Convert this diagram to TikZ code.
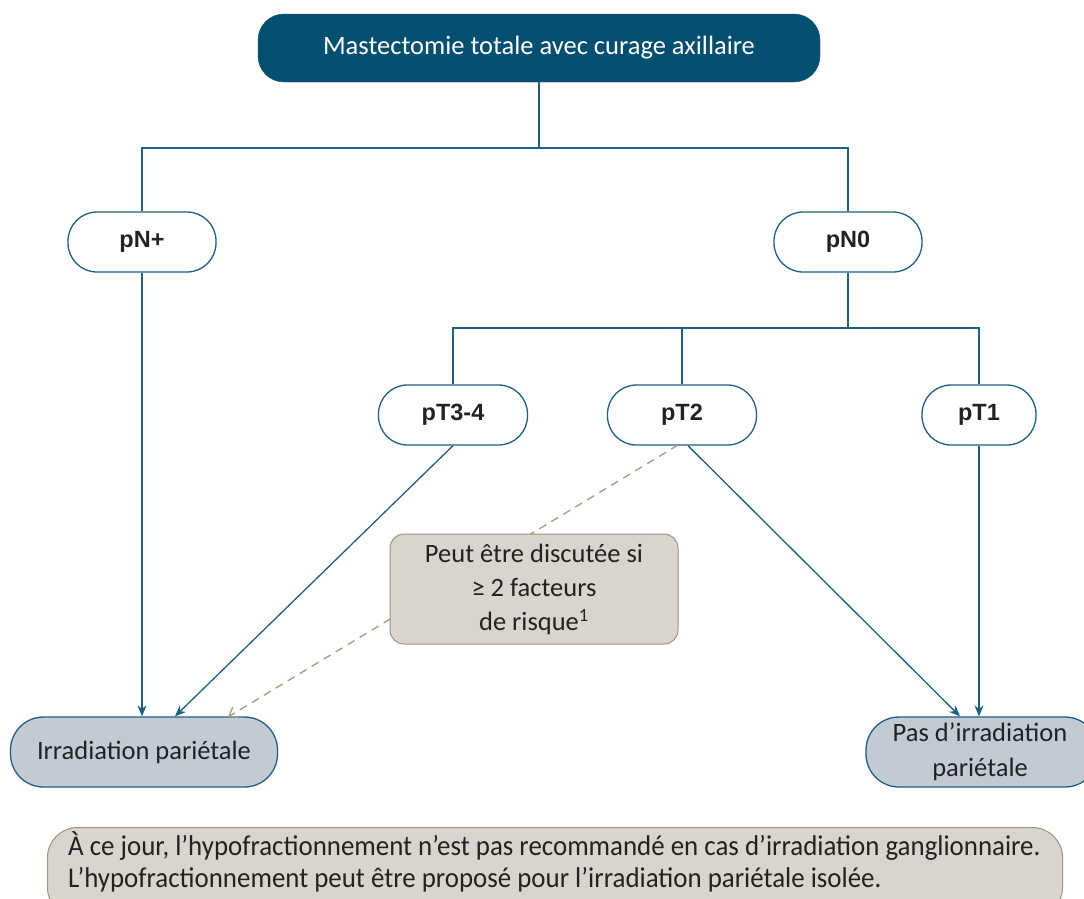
\documentclass[tikz,border=0pt]{standalone}
\usepackage{fontspec}
\setmainfont{Carlito}
\newfontfamily\labelfont{Liberation Sans}
\usetikzlibrary{arrows.meta,calc}
\definecolor{navy}{HTML}{034F70}
\definecolor{linec}{HTML}{1E5F86}
\definecolor{resfill}{HTML}{C2CAD4}
\definecolor{notefill}{HTML}{D9D5CE}
\definecolor{notedraw}{HTML}{A09376}
\definecolor{dashc}{HTML}{A89A80}
\definecolor{txt}{HTML}{222222}
\begin{document}
\begin{tikzpicture}[x=1pt,y=-1pt,
  topbox/.style={draw=navy,fill=navy,rounded corners=26pt,minimum width=562pt,minimum height=68pt,text=white,font=\fontsize{26.5}{30}\selectfont},
  catbox/.style={draw=linec,line width=1.3pt,fill=white,rounded corners=29pt,minimum height=60pt,text=txt,font=\labelfont\bfseries\fontsize{23.5}{27}\selectfont},
  resbox/.style={draw=linec,line width=1.3pt,fill=resfill,rounded corners=33pt,minimum height=70pt,text=txt,align=center,font=\fontsize{26.5}{35}\selectfont},
  notebox/.style={draw=notedraw,line width=1pt,fill=notefill,rounded corners=14pt,minimum width=288pt,minimum height=110pt,text=txt,align=center,font=\fontsize{26.5}{34}\selectfont},
  conn/.style={draw=linec,line width=1.3pt},
  arr/.style={conn,-{Stealth[length=11pt,width=9pt]}},
  darr/.style={draw=dashc,line width=1.3pt,dash pattern=on 8pt off 6pt,-{Straight Barb[length=8pt,width=12pt]}}
]
\useasboundingbox (0,0) rectangle (1084,898);
\node[topbox] (top) at (539,48) {Mastectomie totale avec curage axillaire};
\node[catbox,minimum width=148pt] (pNp) at (142,242) {pN+};
\node[catbox,minimum width=148pt] (pN0) at (848,242) {pN0};
\node[catbox,minimum width=149pt] (pT34) at (453,415) {pT3-4};
\node[catbox,minimum width=149pt] (pT2) at (682,415) {pT2};
\node[catbox,minimum width=114pt] (pT1) at (979,415) {pT1};
\node[resbox,minimum width=267pt] (irr) at (144,752) {Irradiation pariétale};
\node[resbox,minimum width=232pt] (nirr) at (982,752) {};
\node[text=txt,align=center,font=\fontsize{26.5}{35}\selectfont] (nirrt) at (980,752) {Pas d’irradiation\\pariétale};
\coordinate (dstart) at (678,445);
\coordinate (dend) at (228,717);
\draw[darr] (dstart) -- (dend);
\node[notebox] (note) at (534,589) {Peut être discutée si\\ ≥ 2 facteurs\\ de risque\textsuperscript{1}};
\node[draw=notedraw,line width=1pt,fill=notefill,rounded corners=30pt,minimum width=1015pt,minimum height=90pt,anchor=north west] (foot) at (47,827) {};
\node[anchor=north west,text=txt,align=left,font=\fontsize{26.5}{32}\selectfont,inner sep=0pt] (foottext) at (68,831) {\scalebox{1.015}[1.08]{À ce jour, l’hypofractionnement n’est pas recommandé en cas d’irradiation ganglionnaire.}\\\scalebox{1.015}[1.08]{L’hypofractionnement peut être proposé pour l’irradiation pariétale isolée.}};
\coordinate (j1) at (539,148);
\draw[conn] (top.south) -- (j1);
\draw[conn] (pNp.north) |- (j1) -| (pN0.north);
\coordinate (j2) at (848,328);
\draw[conn] (pN0.south) -- (j2);
\draw[conn] (pT34.north) |- (j2) -| (pT1.north);
\draw[conn] (pT2.north) -- (pT2.north |- j2);
\draw[arr] (pNp.south) -- (irr.north -| pNp.south);
\draw[arr] (pT34.south) -- ($(irr.north)+(31,0)$);
\draw[arr] ($(pT2.south)+(6,0)$) -- ($(nirr.north)+(-22,0)$);
\draw[arr] (pT1.south) -- (nirr.north -| pT1.south);
\end{tikzpicture}
\end{document}
